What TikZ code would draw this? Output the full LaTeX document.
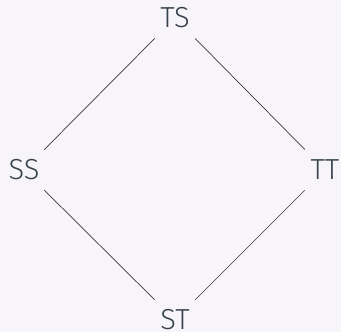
\documentclass[tikz,border=0pt]{standalone}
\usepackage{fontspec}
\setmainfont{Fira Sans Light}
\definecolor{bg}{HTML}{F8F5FA}
\definecolor{ink}{HTML}{36424C}
\definecolor{edge}{HTML}{3A3A3A}
\begin{document}
\begin{tikzpicture}[x=1pt,y=-1pt,
  lbl/.style={circle,inner sep=0pt,minimum size=57pt,text=ink,font=\fontsize{29}{31}\selectfont},
  conn/.style={draw=edge,line width=0.7pt}]
\fill[bg] (0,0) rectangle (341,332);
\useasboundingbox (0,0) rectangle (341,332);
\node[lbl] (TS) at (175,18) {TS};
\node[lbl] (SS) at (24,170) {SS};
\node[lbl] (TT) at (325,170) {TT};
\node[lbl] (ST) at (175,320) {ST};
\draw[conn] (TS) -- (SS);
\draw[conn] (TS) -- (TT);
\draw[conn] (SS) -- (ST);
\draw[conn] (TT) -- (ST);
\end{tikzpicture}
\end{document}
